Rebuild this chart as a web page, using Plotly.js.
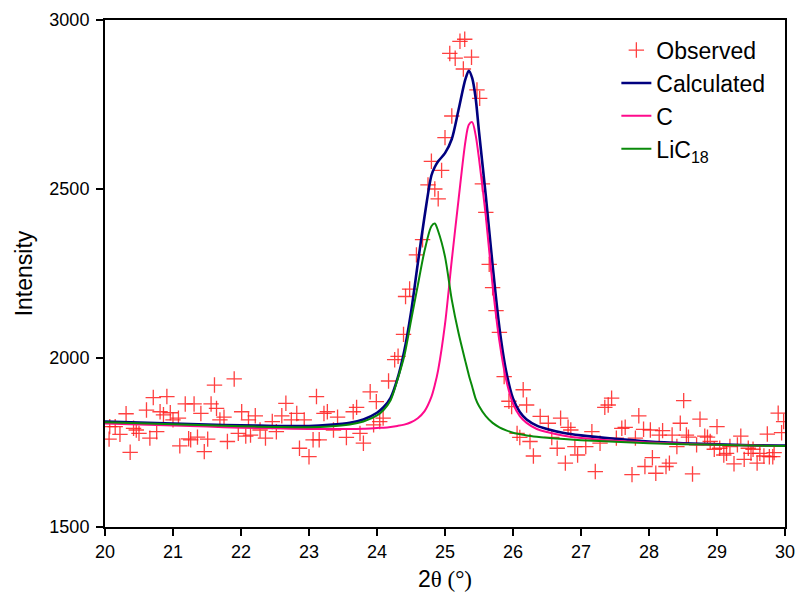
<!DOCTYPE html>
<html>
<head>
<meta charset="utf-8">
<script src="https://cdn.plot.ly/plotly-3.0.1.min.js"></script>
<style>html,body{margin:0;padding:0;background:#fff;}#chart{width:799px;height:605px;}</style>
</head>
<body>
<div id="chart"></div>
<script>
// Observed data points
const obsX = [20.07,20.06,20.15,20.22,20.31,20.37,20.42,20.46,20.50,20.61,20.66,20.71,20.76,20.81,20.86,20.91,20.96,21.00,21.08,21.10,
21.18,21.23,21.26,21.31,21.36,21.41,21.46,21.51,21.56,21.61,21.64,21.69,21.75,21.80,21.90,21.96,22.01,22.07,22.11,22.14,
22.21,22.28,22.36,22.46,22.52,22.60,22.66,22.74,22.82,22.86,22.93,23.00,23.06,23.11,23.15,23.22,23.27,23.36,23.42,23.55,
23.65,23.70,23.75,23.80,23.90,23.95,23.99,24.04,24.09,24.17,24.26,24.31,24.39,24.42,24.48,24.58,24.67,24.75,24.80,24.85,
24.90,24.95,25.00,25.07,25.10,25.15,25.22,25.27,25.29,25.39,25.47,25.51,25.55,25.60,25.65,25.70,25.75,25.80,25.87,25.94,
25.98,26.06,26.10,26.15,26.20,26.25,26.30,26.40,26.52,26.57,26.65,26.70,26.77,26.81,26.85,26.91,26.95,27.07,27.16,27.21,
27.28,27.35,27.40,27.45,27.52,27.60,27.65,27.75,27.80,27.85,27.92,27.94,28.02,28.05,28.10,28.15,28.20,28.25,28.30,28.34,
28.41,28.46,28.51,28.55,28.58,28.64,28.70,28.75,28.82,28.86,28.90,28.96,29.00,29.04,29.10,29.14,29.19,29.25,29.30,29.35,
29.40,29.46,29.50,29.53,29.59,29.63,29.69,29.74,29.77,29.82,29.84,29.90,29.95,29.98];
const obsY = [1797,1760,1797,1774,1835,1721,1792,1787,1777,1846,1763,1883,1782,1841,1832,1886,1838,1817,1822,1740,
1864,1761,1758,1864,1766,1836,1723,1760,1864,1920,1851,1817,1825,1753,1938,1777,1841,1769,1817,1772,
1829,1787,1763,1812,1782,1829,1866,1817,1836,1733,1817,1708,1758,1886,1758,1836,1841,1787,1825,1765,
1841,1854,1777,1748,1900,1802,1871,1812,1822,1932,1995,2005,2070,2182,2204,2305,2350,2512,2582,2500,
2471,2555,2652,2901,2716,2887,2937,2855,2943,2890,2793,2768,2515,2431,2277,2208,2140,2076,1945,1872,
1856,1777,1765,1906,1861,1753,1710,1827,1807,1765,1733,1822,1689,1795,1787,1738,1713,1738,1782,1664,
1748,1854,1861,1881,1763,1792,1795,1655,1763,1829,1789,1679,1787,1705,1659,1772,1785,1679,1689,1772,
1738,1807,1874,1772,1766,1657,1743,1819,1769,1766,1753,1730,1797,1733,1713,1718,1738,1687,1743,1769,
1700,1733,1718,1730,1689,1718,1710,1775,1708,1708,1720,1837,1779,1812];

// Curve sample positions
const curveX = [20,20.5,21,21.5,22,22.5,23,23.3,23.6,23.8,
24.0,24.1,24.2,24.3,24.4,24.5,24.6,24.7,24.8,24.85,
24.9,25.0,25.1,25.2,25.3,25.35,25.4,25.45,25.5,25.6,
25.7,25.8,25.9,26.0,26.1,26.2,26.35,26.5,26.75,27,
27.5,28,28.5,29,29.5,30];
const calcY = [1812,1809,1806,1803,1801,1799,1799,1802,1808,1818,
1838,1855,1882,1938,2020,2135,2280,2420,2540,2565,
2582,2606,2648,2735,2825,2850,2828,2770,2670,2480,
2275,2090,1960,1880,1840,1818,1800,1790,1778,1771,
1761,1753,1748,1745,1742,1741];
const cY = [1806,1803,1800,1797,1794,1792,1790,1790,1790,1791,
1793,1794,1796,1799,1803,1810,1822,1843,1885,1920,
1965,2100,2290,2470,2640,2690,2698,2660,2590,2420,
2215,2050,1935,1865,1828,1808,1790,1781,1770,1763,
1755,1750,1746,1743,1741,1740];
const licY = [1810,1807,1804,1801,1798,1796,1795,1797,1803,1812,
1830,1847,1875,1935,2005,2110,2215,2318,2390,2398,
2375,2300,2172,2073,1990,1950,1915,1880,1858,1828,
1808,1795,1786,1779,1775,1771,1767,1764,1760,1757,
1752,1748,1745,1743,1741,1740];

const seriesNames = ['Observed','Calculated','C','LiC<sub>18</sub>'];
const xTicks = [20,21,22,23,24,25,26,27,28,29,30];
const yTicks = [1500,2000,2500,3000];

const font = 'Arial, "Liberation Sans", sans-serif';
const traces = [
  {x: obsX, y: obsY, type: 'scatter', mode: 'markers', name: seriesNames[0], legendgroup: 'a',
   marker: {symbol: 'cross-thin-open', size: 11, color: 'rgba(255,30,30,0.85)', line: {width: 1.3, color: 'rgba(255,30,30,0.85)'}}},
  {x: curveX, y: calcY, type: 'scatter', mode: 'lines', name: seriesNames[1], legendgroup: 'b',
   line: {color: '#00007f', width: 2.6, shape: 'spline', smoothing: 0.8}},
  {x: curveX, y: cY, type: 'scatter', mode: 'lines', name: seriesNames[2], legendgroup: 'c',
   line: {color: '#ff0a8c', width: 2, shape: 'spline', smoothing: 0.8}},
  {x: curveX, y: licY, type: 'scatter', mode: 'lines', name: seriesNames[3], legendgroup: 'd',
   line: {color: '#0a8a0a', width: 2, shape: 'spline', smoothing: 0.8}}
];

const layout = {
  width: 799, height: 605,
  margin: {l: 105, r: 14, t: 20, b: 78},
  paper_bgcolor: '#fff', plot_bgcolor: '#fff',
  font: {family: font, color: '#000'},
  showlegend: true,
  legend: {x: 0.752, y: 0.983, xanchor: 'left', yanchor: 'top', bgcolor: 'rgba(0,0,0,0)',
           font: {size: 23, family: font, color: '#000'}, tracegroupgap: 0, traceorder: 'normal'},
  xaxis: {range: [20, 30], tickvals: xTicks, ticktext: xTicks.map(String),
          ticks: 'outside', ticklen: 7, tickwidth: 1.5, tickcolor: '#000',
          showline: true, linewidth: 2, linecolor: '#000', mirror: true,
          showgrid: false, zeroline: false, tickfont: {size: 18, family: font},
          title: {text: '2<span style="font-family:\'Liberation Serif\', serif">θ (°)</span>', font: {size: 23, family: font}, standoff: 10}},
  yaxis: {range: [1500, 3000], tickvals: yTicks, ticktext: yTicks.map(String),
          ticks: 'outside', ticklen: 7, tickwidth: 1.5, tickcolor: '#000',
          showline: true, linewidth: 2, linecolor: '#000', mirror: true,
          showgrid: false, zeroline: false, tickfont: {size: 18, family: font}, ticklabelstandoff: 3,
          title: {text: 'Intensity', font: {size: 23, family: font}, standoff: 10}}
};

Plotly.newPlot('chart', traces, layout, {displayModeBar: false, staticPlot: true});
</script>
</body>
</html>
